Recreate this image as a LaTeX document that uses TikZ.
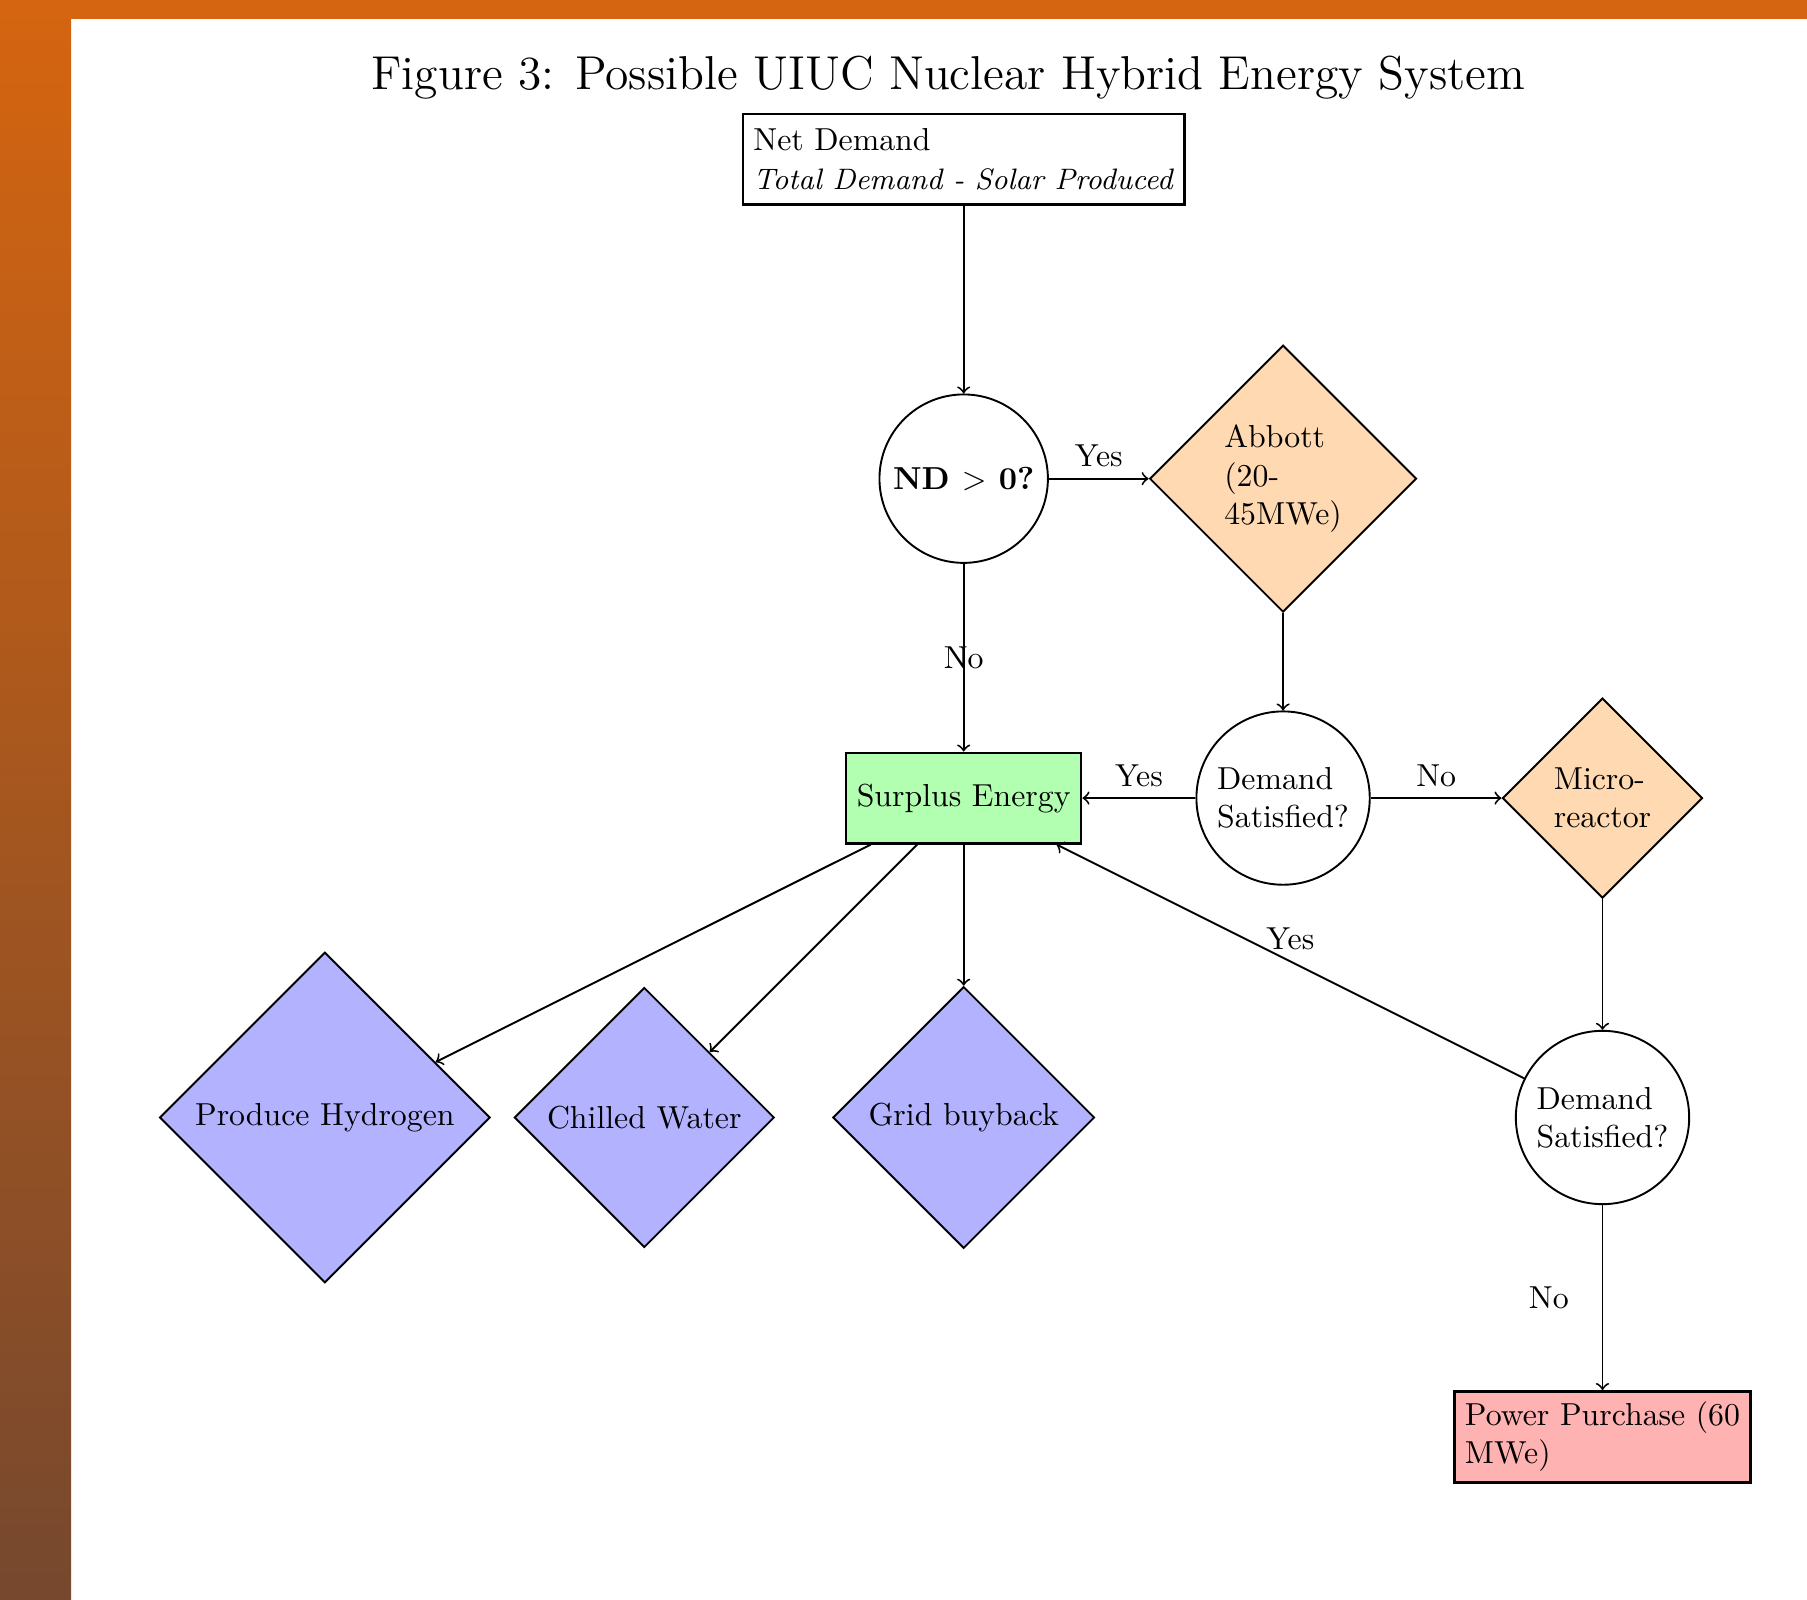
\documentclass[tikz,border=0pt]{standalone}
\usepackage{amsmath, amssymb}
\usepackage{xcolor}
\usepackage{tikz}
\usetikzlibrary{shapes, arrows, positioning, calc}
\definecolor{frameorange}{RGB}{213,101,16}
\definecolor{framebrown}{RGB}{118,72,46}
\tikzset{
    block/.style={
        rectangle,
        thick,
        draw=black,
        minimum height=1cm,
    },
    query/.style={
        circle,
        semithick,
        draw=black,
    },
    source/.style={
        diamond,
        aspect=1,
        semithick,
        draw=black,
    },
}

\begin{document}
\begin{tikzpicture}[node distance=3.53cm,>=to]
          % page frame
          \useasboundingbox (0,0) rectangle (19.97,-17.68);
          \fill[white] (0,0) rectangle (19.97,-17.68);
          \shade[top color=frameorange, bottom color=framebrown] (0,0) rectangle (0.785,-17.68);
          \fill[frameorange] (0,0) rectangle (19.97,-0.21);

          \node [block, align=left] (net) at (10.65,-1.76) {Net Demand\\{\fontsize{9.3}{12}\selectfont\textit{Total Demand - Solar Produced}}};
          \node [font=\fontsize{14.95}{18}\selectfont] (title) [above of=net, node distance=0.9cm, xshift=-0.17cm] {Figure 3: Possible UIUC Nuclear Hybrid Energy System};
          \node [query] (nd) [below of=net] {\textbf{ND $>$ 0?}};
          \node [source, fill=orange!30, align=left] (abbott) [right of=nd] {Abbott\\(20-\\45MWe)};
          \node [block, fill=green!30] (surplus) [below of=nd] {Surplus Energy};
          \node [query, align=left] (ds1) [below of=abbott] {Demand\\Satisfied?};
          \node [source, fill=orange!30, align=left] (micro) [right of=ds1] {Micro-\\reactor};
          \node [query, align=left] (ds2) [below of=micro] {Demand\\Satisfied?};
          \node [block, fill=red!30, align=left] (power) [below of=ds2] {Power Purchase (60\\MWe)};

          % outlets for surplus energy
          \node [source, fill=blue!30] (grid) [below of=surplus] {Grid buyback};
          \node [source, fill=blue!30] (water) [left of=grid] {Chilled Water};
          \node [source, fill=blue!30] (hydrogen) [left of=water] {Produce Hydrogen};

          \path[->, semithick] (net) edge (nd);
          \path[->, semithick] (nd) edge node[above] {Yes} (abbott);
          \path[->, semithick] (nd) edge node {No} (surplus);
          \path[->, semithick] (abbott) edge (ds1);
          \path[->, semithick] (ds1) edge node[above] {Yes} (surplus);
          \path[->, semithick] (ds1) edge node[above] {No} (micro);
          \path[->, semithick] (micro) edge (ds2);
          \path[->, semithick] (ds2) edge node[above] {Yes} (surplus);
          \path[->, semithick] (ds2) edge node[left=7pt] {No} (power);
          \path[->, semithick] (surplus) edge (hydrogen);
          \path[->, semithick] (surplus) edge (water);
          \path[->, semithick] (surplus) edge (grid);
\end{tikzpicture}
\end{document}
